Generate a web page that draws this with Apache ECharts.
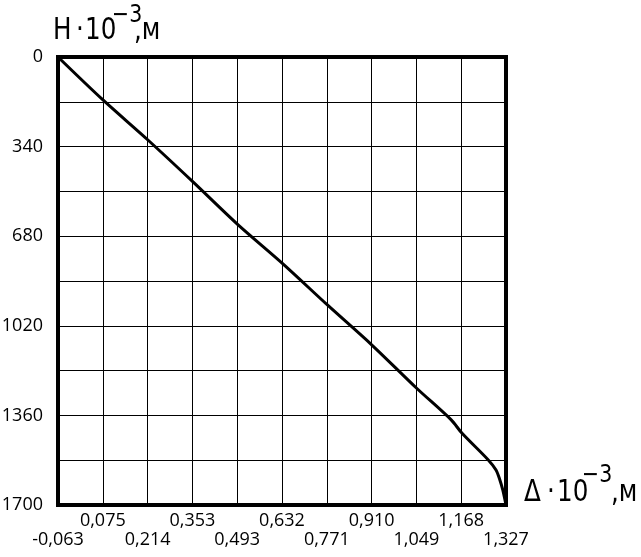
<!DOCTYPE html>
<html><head><meta charset="utf-8">
<script src="https://cdn.jsdelivr.net/npm/echarts@6/dist/echarts.min.js"></script>
<style>html,body{margin:0;padding:0;background:#fff}#c{width:641px;height:557px}</style>
</head><body><div id="c"></div>
<script>
// Data
const deltaValues = [-0.063, 0.0765, 0.216, 0.355, 0.495, 0.634, 0.772, 0.911, 1.049, 1.157, 1.190, 1.272, 1.296, 1.308, 1.317, 1.327];
const depthValues = [0, 163, 315, 473, 636, 784, 940, 1093, 1256, 1377, 1427, 1529, 1567, 1605, 1643, 1700];
const xTickValues = [-0.063, 0.076, 0.215, 0.354, 0.493, 0.632, 0.771, 0.910, 1.049, 1.188, 1.327];
const xTickLabels = ['-0,063', '0,075', '0,214', '0,353', '0,493', '0,632', '0,771', '0,910', '1,049', '1,168', '1,327'];
const yLabelStep = 340;

const titleFont = '"DejaVu Sans", sans-serif';
const labelFont = '"Open Sans", sans-serif';
const lowerRowTicks = xTickValues.filter(function (v, i) { return i % 2 === 0; });
const upperRowTicks = xTickValues.filter(function (v, i) { return i % 2 === 1; });

function labelFor(v) {
  let idx = 0, best = Infinity;
  xTickValues.forEach(function (t, i) { const d = Math.abs(t - v); if (d < best) { best = d; idx = i; } });
  return xTickLabels[idx];
}

function txt(text, x, y, size, align) {
  return {
    type: 'text', x: x, y: y, scaleX: 0.82, silent: true,
    style: { text: text, fill: '#000', font: size + 'px ' + titleFont, textAlign: align || 'left', textVerticalAlign: 'middle', verticalAlign: 'middle' }
  };
}

const labelBase = { fontSize: 18, fontFamily: labelFont, color: '#000', showMinLabel: true, showMaxLabel: true, hideOverlap: false, formatter: labelFor };

const chart = echarts.init(document.getElementById('c'), null, { renderer: 'canvas' });
chart.setOption({
  animation: false,
  backgroundColor: '#fff',
  grid: { left: 58, top: 57, width: 448, height: 448, show: true, borderColor: '#000', borderWidth: 4, backgroundColor: 'transparent', containLabel: false, outerBoundsMode: 'none' },
  xAxis: [{
    type: 'value', min: -0.063, max: 1.327, position: 'bottom',
    axisLine: { show: false },
    axisTick: { show: false, customValues: xTickValues },
    splitLine: { show: true, lineStyle: { color: '#000', width: 1 } },
    axisLabel: Object.assign({}, labelBase, { customValues: lowerRowTicks, margin: 26 })
  }, {
    type: 'value', min: -0.063, max: 1.327, position: 'bottom',
    axisLine: { show: false },
    axisTick: { show: false, customValues: upperRowTicks },
    splitLine: { show: false },
    axisLabel: Object.assign({}, labelBase, { customValues: upperRowTicks, margin: 7 })
  }],
  yAxis: {
    type: 'value', inverse: true, min: 0, max: 1700, interval: 170,
    axisLine: { show: false },
    axisTick: { show: false },
    splitLine: { show: true, lineStyle: { color: '#000', width: 1 } },
    axisLabel: {
      fontSize: 18, fontFamily: labelFont, color: '#000', margin: 15,
      showMinLabel: true, showMaxLabel: true,
      formatter: function (v) { return (Math.round(v) % yLabelStep === 0) ? String(Math.round(v)) : ''; }
    }
  },
  series: [{
    type: 'line', xAxisIndex: 0,
    data: deltaValues.map(function (d, i) { return [d, depthValues[i]]; }),
    showSymbol: false, smooth: 0.3, clip: false,
    lineStyle: { color: '#000', width: 3 }
  }],
  graphic: [
    txt('H', 53, 31, 30),
    txt('·', 80, 31, 30, 'center'),
    txt('10', 85, 31, 30),
    txt('−3', 112, 15.5, 25),
    txt(',м', 134, 31, 30),
    txt('Δ', 524, 493, 30),
    txt('·', 551, 493, 30, 'center'),
    txt('10', 557, 493, 30),
    txt('−3', 582, 475.5, 25),
    txt(',м', 611, 493, 30)
  ]
});
</script></body></html>
